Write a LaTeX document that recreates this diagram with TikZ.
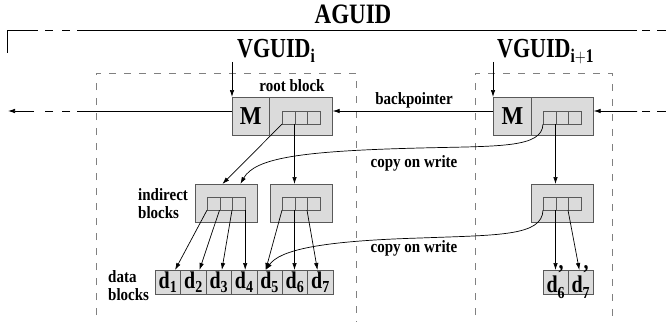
\documentclass[tikz,border=0pt]{standalone}
\usepackage{fontspec}
\usepackage{graphicx}
\setmainfont{Liberation Serif}
\usetikzlibrary{arrows.meta,calc}
% taller lettering for labels and titles
\newcommand{\vs}[2][1.15]{\scalebox{1}[#1]{#2}}
\begin{document}
\begin{tikzpicture}[x=1pt,y=-1pt,
  blk/.style={draw=black!65, fill=black!14, line width=0.7pt, inner sep=0pt, anchor=north west},
  cellb/.style={draw=black!65, line width=0.7pt, inner sep=0pt, anchor=north west,
                minimum width=12.5pt, minimum height=12.5pt},
  arr/.style={-{Latex[length=7pt,width=4.5pt]}, line width=0.7pt},
  lbl/.style={font=\fontsize{15}{18}\selectfont\bfseries, inner sep=0pt},
  big/.style={font=\fontsize{22}{24}\selectfont\bfseries, inner sep=0pt},
  vbox/.style={draw=black!50, dash pattern=on 7pt off 8pt, line width=0.8pt},
  dlab/.style={font=\fontsize{20}{21}\selectfont\bfseries}
]
\useasboundingbox (0,0) rectangle (666,321);

% version boxes
\draw[vbox] (96,330) -- (96,73) -- (356,73) -- (356,330);
\draw[vbox] (475,330) -- (475,73) -- (612,73) -- (612,330);

% titles
\node[big, anchor=base, font=\fontsize{23}{24}\selectfont\bfseries] (aguid) at (353,24) {\vs[1.22]{AGUID}};
\node[big, anchor=base west] (vgL) at (237,58) {\vs[1.25]{VGUID$_{\mathbf{i}}$}};
\node[big, anchor=base west] (vgR) at (497,58) {\vs[1.25]{VGUID$_{\mathbf{i+1}}$}};

% AGUID frame
\coordinate (fr0) at (7,53);
\coordinate (fr1) at (7,30);
\coordinate (fr2) at (38,30);
\coordinate (fr3) at (77,30);
\coordinate (fr4) at (637,30);
\coordinate (fr5) at (666,30);
\draw[line width=0.8pt] (fr0) -- (fr1) -- (fr2);
\draw[line width=0.8pt, dash pattern=on 0pt off 7pt on 8pt off 9pt on 8pt off 7pt] (fr2) -- (fr3);
\draw[line width=0.8pt] (fr3) -- (fr4);
\draw[line width=0.8pt, dash pattern=on 0pt off 5pt on 8pt off 7pt on 9pt] (fr4) -- (fr5);

% root blocks
\node[blk, minimum width=37pt, minimum height=38pt, font=\fontsize{23}{24}\selectfont\bfseries] (mL) at (232,97) {\vs[1.12]{M}};
\node[blk, minimum width=63pt, minimum height=38pt] (pL) at (269,97) {};
\node[blk, minimum width=38pt, minimum height=38pt, font=\fontsize{23}{24}\selectfont\bfseries] (mR) at (493,97) {\vs[1.12]{M}};
\node[blk, minimum width=62pt, minimum height=38pt] (pR) at (531,97) {};
\foreach \i in {1,2,3} {
  \node[cellb] (rla\i) at ({282+(\i-1)*12.5},111) {};
  \node[cellb] (rra\i) at ({543+(\i-1)*12.5},111) {};
}
\node[lbl, anchor=base] (rootlbl) at (292,92) {\vs{root block}};

% indirect blocks
\node[blk, minimum width=62pt, minimum height=38pt] (I1) at (195,184) {};
\node[blk, minimum width=62pt, minimum height=38pt] (I2) at (270,184) {};
\node[blk, minimum width=62pt, minimum height=38pt] (I3) at (531,184) {};
\foreach \i in {1,2,3} {
  \node[cellb] (iaa\i) at ({207+(\i-1)*12.5},197) {};
  \node[cellb] (iba\i) at ({282+(\i-1)*12.5},197) {};
  \node[cellb] (ica\i) at ({543+(\i-1)*12.5},197) {};
}
\node[lbl, anchor=north west, align=left] (indlbl) at (138,188) {\vs{indirect}\\\vs{blocks}};

% data blocks
\foreach \i in {1,...,7} {
  \node[blk, minimum width=25.4pt, minimum height=24pt] (d\i) at ({155+(\i-1)*25.4},270) {};
  \node[dlab, inner sep=0pt] at (d\i.center) {\vs[1.2]{$\mathbf{d}_{\mathbf{\i}}$}};
}
\node[blk, minimum width=25pt, minimum height=24pt] (dp6) at (543,270) {};
\node[blk, minimum width=25pt, minimum height=24pt] (dp7) at (568,270) {};
\node[dlab, inner sep=0pt] (dp6t) at (dp6.center) {\vs[1.2]{$\mathbf{d}^{\raisebox{1.5pt}{\textbf{'}}}_{\mathbf{6}}$}};
\node[dlab, inner sep=0pt] (dp7t) at (dp7.center) {\vs[1.2]{$\mathbf{d}^{\raisebox{1.5pt}{\textbf{'}}}_{\mathbf{7}}$}};
\node[lbl, anchor=north west, align=left] (datalbl) at (108,270) {\vs{data}\\\vs{blocks}};

% entry arrows from the version ids
\coordinate (vgLa) at (232,62);
\coordinate (vgRa) at (493,62);
\draw[arr] (vgLa) -- (mL.north west);
\draw[arr] (vgRa) -- (mR.north west);

% backpointer chain
\coordinate (bpL) at ($(mL.north west)+(0,14)$);
\coordinate (bpLr) at ($(pL.north east)+(0,14)$);
\coordinate (bpRl) at ($(mR.north west)+(0,14)$);
\coordinate (bpRr) at ($(pR.north east)+(0,14)$);
\coordinate (cl1) at (77,111);
\coordinate (cl2) at (34,111);
\coordinate (farL) at (8,111);
\coordinate (cr1) at (637,111);
\coordinate (farR) at (666,111);
\draw[line width=0.7pt] (bpL) -- (cl1);
\draw[line width=0.7pt, dash pattern=on 0pt off 7pt on 8pt off 9pt on 8pt off 11pt] (cl1) -- (cl2);
\draw[arr] (cl2) -- (farL);
\draw[line width=0.7pt, dash pattern=on 9pt off 7pt on 8pt off 5pt] (farR) -- (cr1);
\draw[arr] (cr1) -- (bpRr);
\draw[arr] (bpRl) -- (bpLr);
\node[lbl, anchor=base] (bplbl) at (414,104) {\vs{backpointer}};

% root pointers
\draw[arr] (rla1.south west) -- ($(I1.north)+(-4,0)$);
\draw[arr] (rla2.south west) -- (rla2.south west |- I2.north);
\draw[arr] (rra2.south west) -- (rra2.south west |- I3.north);
\draw[arr] (rra1.south west) .. controls (542,148) and (500,146) .. (420,148)
  .. controls (300,151) and (255,158) .. ($(I1.north)+(14,0)$);
\node[lbl, anchor=base] (cow1) at (414,167) {\vs{copy on write}};

% indirect pointers
\draw[arr] (iaa1.south west) -- ($(d1.north)+(7,0)$);
\draw[arr] (iaa2.south west) -- ($(d2.north)+(6,0)$);
\draw[arr] (iaa3.south west) -- ($(d3.north)+(3,0)$);
\draw[arr] (iaa3.south east) -- (iaa3.south east |- d4.north);
\draw[arr] (iba1.south west) -- ($(d5.north)+(-4,0)$);
\draw[arr] (iba2.south west) -- (iba2.south west |- d6.north);
\draw[arr] (iba3.south west) -- ($(d7.north)+(-3,0)$);
\draw[arr] (ica2.south west) -- (ica2.south west |- dp6.north);
\draw[arr] (ica3.south west) -- ($(dp7.north)+(-1.5,0)$);
\draw[arr] (ica1.south west) .. controls (542,236) and (500,235) .. (420,238)
  .. controls (320,241) and (280,250) .. ($(d5.north)+(-4,0)$);
\node[lbl, anchor=base] (cow2) at (414,252) {\vs{copy on write}};
\end{tikzpicture}
\end{document}
